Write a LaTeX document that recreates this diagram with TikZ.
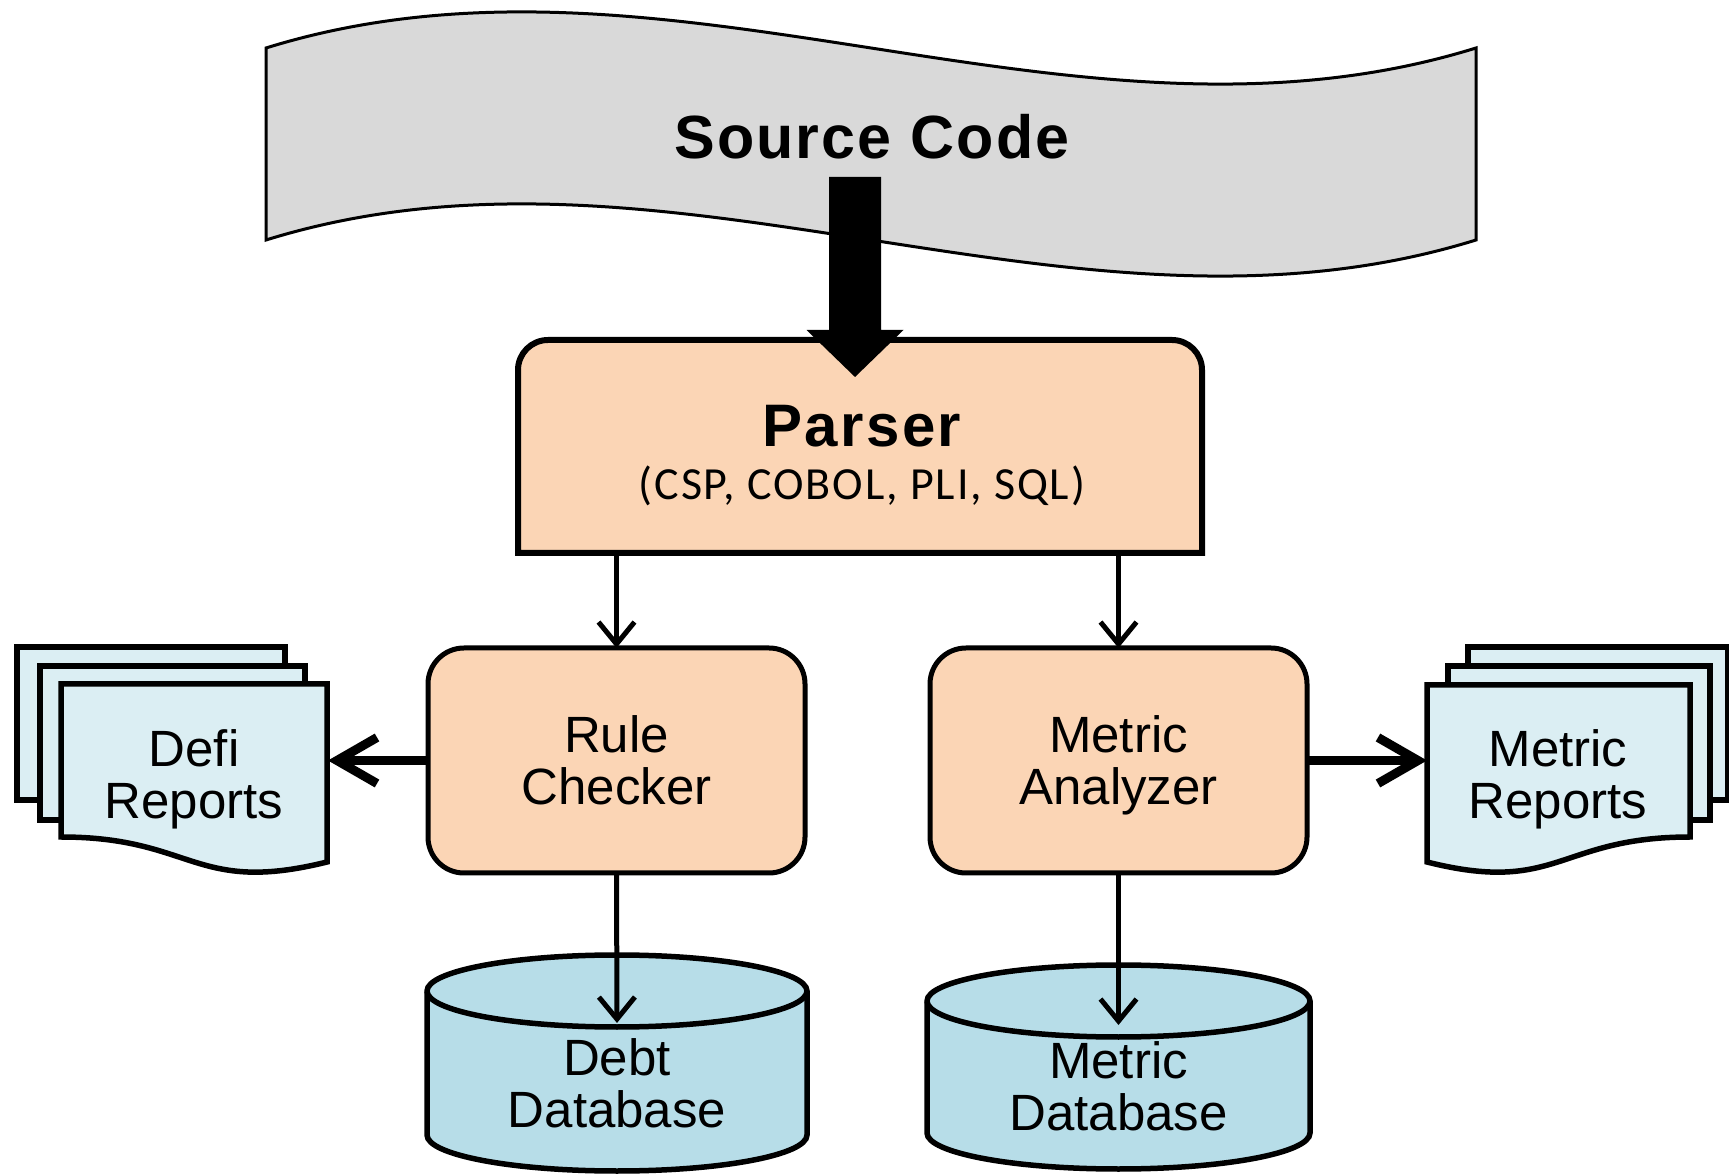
\documentclass[tikz,border=0pt]{standalone}
\usepackage{fontspec}
\setmainfont{Liberation Sans}
\newfontfamily\calfont{Carlito}
\usetikzlibrary{arrows.meta}
\definecolor{peach}{HTML}{FBD5B5}
\definecolor{bannergray}{HTML}{D9D9D9}
\definecolor{docblue}{HTML}{DBEEF3}
\definecolor{dbblue}{HTML}{B7DDE8}
% last line of a label without depth, so descenders do not shift the block
\newcommand\nodepth[1]{\raisebox{0pt}[\height][0pt]{#1}}

\begin{document}
\begin{tikzpicture}[x=1pt,y=1pt,
  lbl/.style={font=\fontsize{51}{52}\selectfont, align=center, inner sep=0pt, outer sep=0pt},
  procbox/.style={lbl, draw, line width=5pt, fill=peach, rounded corners=36pt,
    minimum width=377pt, minimum height=225pt},
  conn/.style={line width=5pt, -{Straight Barb[length=22pt, width=36pt]}},
  sidearrow/.style={line width=9pt, -{Straight Barb[length=40pt, width=46pt]}},
  page/.style={draw, line width=5.5pt, fill=docblue, line join=miter},
  dbshape/.style={draw, line width=5.5pt, fill=dbblue},
  bannerstyle/.style={draw, line width=3pt, fill=bannergray}]

\fill[white] (0,0) rectangle (1729,1173);
\useasboundingbox (0,0) rectangle (1729,1173);

% source code banner
\path[bannerstyle] (266,1125) .. controls (669,1250) and (1073,1000) .. (1476,1125)
  -- (1476,933) .. controls (1073,808) and (669,1058) .. (266,933) -- cycle;
\node[font=\fontsize{61}{64}\selectfont\bfseries\addfontfeature{LetterSpace=3.5}, inner sep=0pt] (src) at (872,1036) {Source Code};

% parser box, rounded on top only
\node[minimum width=684pt, minimum height=213pt, inner sep=0pt, outer sep=0pt] (parser) at (860,726.5) {};
\path[draw, line width=6pt, fill=peach]
  (parser.south west) -- ([yshift=-30pt]parser.north west)
  arc[start angle=180, end angle=90, radius=30pt]
  -- ([xshift=-30pt]parser.north east)
  arc[start angle=90, end angle=0, radius=30pt]
  -- (parser.south east) -- cycle;
\node[font=\fontsize{60}{62}\selectfont\bfseries\addfontfeature{LetterSpace=4}, inner sep=0pt] (ptitle) at (862,747) {Parser};
\node[font=\calfont\fontsize{46}{48}\selectfont\addfontfeature{LetterSpace=4}, inner sep=0pt] (plang) at (862,687) {(CSP, COBOL, PLI, SQL)};

% block arrow from the source into the parser
\coordinate (bigtip) at (855,796);
\fill (bigtip) -- ++(48.5,47) -- ++(-22.5,0) -- ++(0,153) -- ++(-52,0)
  -- ++(0,-153) -- ++(-22.5,0) -- cycle;

% processing boxes
\node[procbox] (rc) at (616.5,412.5) {Rule\\Checker};
\node[procbox] (ma) at (1118.5,412.5) {Metric\\\nodepth{Analyzer}};

% report stack, left
\draw[page] (17,526) rectangle (285,373);
\draw[page] (40,507) rectangle (305,353);
\draw[page] (61,489) -- (327,489) -- (327,311) .. controls (194,278) and (194,336) .. (61,336) -- cycle;
\node[lbl] (defi) at (194,399) {Defi\\\nodepth{Reports}};
\coordinate (defiedge) at (328,410);

% report stack, right
\draw[page] (1468,526) rectangle (1728,373);
\draw[page] (1448,507) rectangle (1710,353);
\draw[page] (1427,488) -- (1690,488) -- (1690,336) .. controls (1558,336) and (1558,278) .. (1427,311) -- cycle;
\node[lbl] (mrep) at (1558,399) {Metric\\\nodepth{Reports}};
\coordinate (mrepedge) at (1427,410);

% databases
\path[dbshape] (427,182) -- (427,38) arc[start angle=180, end angle=360, x radius=190pt, y radius=36pt]
  -- (807,182) arc[start angle=0, end angle=180, x radius=190pt, y radius=36pt] -- cycle;
\draw[line width=5.5pt] (427,182) arc[start angle=180, end angle=360, x radius=190pt, y radius=36pt];
\node[lbl] (debt) at (617,89.5) {Debt\\Database};
\coordinate (debttip) at (617,150);

\path[dbshape] (927,172) -- (927,40) arc[start angle=180, end angle=360, x radius=191.5pt, y radius=36pt]
  -- (1310,172) arc[start angle=0, end angle=180, x radius=191.5pt, y radius=36pt] -- cycle;
\draw[line width=5.5pt] (927,172) arc[start angle=180, end angle=360, x radius=191.5pt, y radius=36pt];
\node[lbl] (mdb) at (1118.5,86.5) {Metric\\Database};
\coordinate (mdbtip) at (1118.5,148);

% connectors
\draw[conn] (parser.south -| rc.north) -- (rc.north);
\draw[conn] (parser.south -| ma.north) -- (ma.north);
\draw[conn] (rc.south) -- (debttip);
\draw[conn] (ma.south) -- (mdbtip);
\draw[sidearrow] (rc.west) -- (rc.west -| defiedge);
\draw[sidearrow] (ma.east) -- (ma.east -| mrepedge);
\end{tikzpicture}
\end{document}
